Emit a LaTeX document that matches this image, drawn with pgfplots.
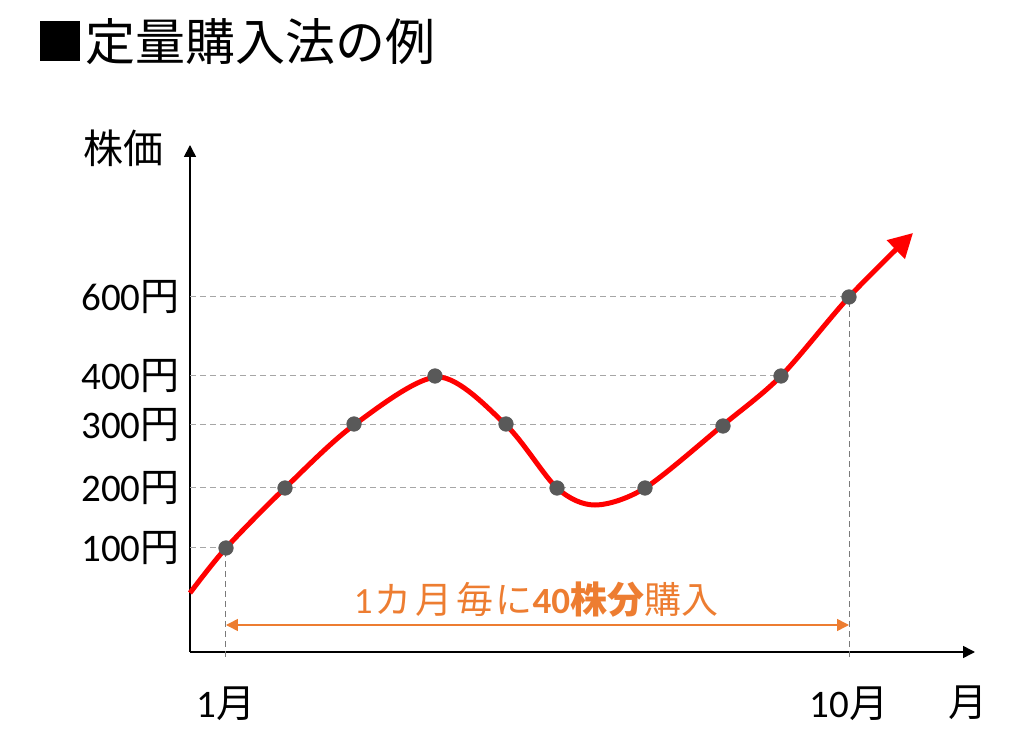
\documentclass[border=0pt]{standalone}
\usepackage{pgfplots}
\pgfplotsset{compat=1.18}
\usepackage{fontspec}
\setmainfont{Carlito}
\newfontfamily\cjk{Noto Sans CJK JP}
\usetikzlibrary{arrows.meta}
\definecolor{dotgray}{HTML}{595959}
\definecolor{dashgray}{HTML}{A6A6A6}
\definecolor{annor}{HTML}{ED7D31}
\begin{document}
\begin{tikzpicture}
\begin{axis}[
  x=0.5pt, y=0.5pt,
  xmin=0, xmax=785, ymin=0, ymax=507,
  axis lines=left,
  axis line style={line width=0.8pt, -{Triangle[length=6pt,width=6pt]}},
  clip=false,
  major tick length=0pt,
  xtick={36,659}, xticklabels={1{\cjk 月},10{\cjk 月}},
  ytick={104,164,227,276,355},
  yticklabels={100{\cjk 円},200{\cjk 円},300{\cjk 円},400{\cjk 円},600{\cjk 円}},
  tick label style={font=\fontsize{19.5}{22}\selectfont},
  yticklabel style={anchor=east, inner sep=0pt, xshift=-5pt},
  xticklabel style={anchor=north, inner sep=0pt, yshift=-17pt},
]
\path (axis cs:-190,-103) rectangle (axis cs:828,652);
% dashed guide lines
\addplot[dashgray, line width=0.5pt, dash pattern=on 3pt off 2pt] coordinates {(0,104) (36,104)};
\addplot[dashgray, line width=0.5pt, dash pattern=on 3pt off 2pt] coordinates {(0,164) (455,164)};
\addplot[dashgray, line width=0.5pt, dash pattern=on 3pt off 2pt] coordinates {(0,227) (533,227)};
\addplot[dashgray, line width=0.5pt, dash pattern=on 3pt off 2pt] coordinates {(0,276) (591,276)};
\addplot[dashgray, line width=0.5pt, dash pattern=on 3pt off 2pt] coordinates {(0,355) (659,355)};
\addplot[dotgray!80, line width=0.5pt, dash pattern=on 3pt off 2pt] coordinates {(36,-5) (36,104)};
\addplot[dotgray!80, line width=0.5pt, dash pattern=on 3pt off 2pt] coordinates {(659,-5) (659,355)};
% price curve
\addplot[red, line width=2.5pt, smooth, -{Triangle[length=12pt,width=12.5pt]}] coordinates {
  (0,59) (36,104) (95,164) (164,227) (248,275) (316,227) (367,164)
  (405,147) (455,164) (533,227) (591,276) (659,355) (723,419)};
% purchase points
\addplot[only marks, mark=*, mark size=3.6pt, color=dotgray] coordinates {
  (36,104) (95,164) (164,228) (245,276) (316,228) (367,164) (455,164) (533,226) (591,276) (659,355)};
% annotation
\draw[annor, line width=0.8pt, {Triangle[length=6pt,width=6pt]}-{Triangle[length=6pt,width=6pt]}] (axis cs:36,27) -- (axis cs:659,27);
\node[annor, font=\fontsize{18.5}{22}\selectfont] at (axis cs:346,52) {1\kern1pt{\cjk カ\kern2pt 月\kern2pt 毎\kern1pt に}\textbf{40{\cjk 株分}}{\cjk 購入}};
% labels
\node[font=\fontsize{20}{22}\selectfont\cjk] at (axis cs:-66,504) {株価};
\node[font=\fontsize{19.5}{22}\selectfont\cjk] at (axis cs:778,-51) {月};
\node[anchor=west, inner sep=0pt, font=\fontsize{25}{28}\selectfont\cjk] at (axis cs:-155,610) {■定量購入法の例};
\end{axis}
\end{tikzpicture}
\end{document}
